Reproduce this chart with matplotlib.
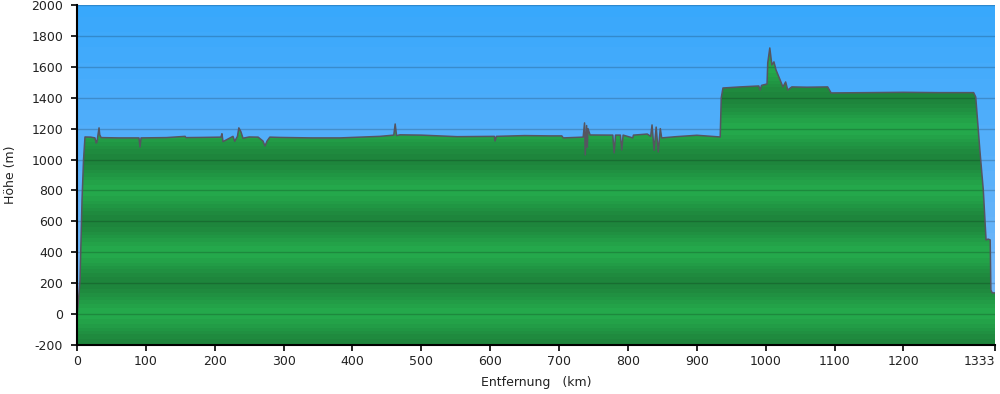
import numpy as np
import matplotlib.pyplot as plt
from matplotlib.colors import to_rgb

plt.rcParams['axes.unicode_minus'] = False

# Höhenprofil: Entfernung (km) und Höhe (m)
dist_km = [0, 1, 4.4, 7.3, 9.5, 11.6, 20, 26, 28, 29, 32, 33, 35, 60, 90, 91.5, 93,
           130, 157, 158, 180, 209, 210.5, 212, 226.5, 229, 233, 235, 238, 241, 250,
           263, 270, 273, 276, 280, 295, 340, 382, 440, 460, 462, 464, 469, 500, 552,
           606, 607, 609, 650, 687, 704, 706, 735, 737, 738, 740, 741, 742, 745, 778,
           780, 782, 789, 791, 793, 807, 808, 828, 833, 835, 838, 841, 844, 847, 849,
           870, 900, 934, 935.5, 938, 963, 990, 992, 994, 1002, 1003, 1006, 1009, 1012,
           1015, 1021, 1025, 1029, 1032, 1038, 1060, 1090, 1095, 1150, 1200, 1250,
           1302, 1305, 1311, 1316, 1320, 1323, 1326, 1327, 1329, 1333]
elev_m = [0, 26, 220, 738, 1000, 1146, 1145, 1140, 1107, 1115, 1205, 1160, 1142, 1140, 1140, 1081, 1140,
          1142, 1150, 1142, 1143, 1145, 1167, 1116, 1150, 1118, 1150, 1205, 1180, 1138, 1146,
          1145, 1120, 1088, 1120, 1145, 1143, 1140, 1140, 1150, 1158, 1230, 1155, 1160, 1158, 1148,
          1150, 1120, 1150, 1155, 1153, 1153, 1140, 1145, 1237, 1030, 1220, 1080, 1200, 1159, 1158,
          1043, 1158, 1158, 1062, 1158, 1140, 1158, 1165, 1150, 1224, 1060, 1210, 1049, 1200, 1140,
          1148, 1157, 1146, 1400, 1463, 1470, 1476, 1450, 1480, 1489, 1625, 1722, 1612, 1632,
          1580, 1515, 1470, 1502, 1450, 1470, 1468, 1470, 1431, 1433, 1435, 1433,
          1433, 1405, 1062, 803, 480, 485, 480, 156, 137, 137]

yticks = list(range(-200, 2001, 200))
xticks = [0, 100, 200, 300, 400, 500, 600, 700, 800, 900, 1000, 1100, 1200, 1333]

x_max = 1333
y_min, y_max = -200, 2000

fig = plt.figure(figsize=(10, 3.94), dpi=100)
ax = fig.add_axes([0.077, 0.1244, 0.918, 0.8629])

# Himmel: blauer Verlauf in Stufen
ev = np.linspace(y_max, y_min, 800)
top = np.array(to_rgb("#38a8fc"))
bot = np.array(to_rgb("#80baf8"))
step = np.floor((y_max - ev + 25) / 100.0) * 100.0
t = np.clip(step / (y_max - y_min), 0, 1)
sky = top + (bot - top) * t[:, None]
ax.imshow(sky[:, None, :], extent=[0, x_max, y_min, y_max], aspect="auto",
          interpolation="nearest", zorder=0)

# Gelände: grüne Streifen (Periode 400 m)
light = np.array(to_rgb("#24a84b"))
dark = np.array(to_rgb("#1e853c"))
phase = ((ev - 200) % 400) / 400.0
g = 0.5 - 0.5 * np.cos(2 * np.pi * phase)
g = np.round(g * 6) / 6
ground = dark + (light - dark) * g[:, None]
im = ax.imshow(ground[:, None, :], extent=[0, x_max, y_min, y_max], aspect="auto",
               interpolation="nearest", zorder=1)
poly = ax.fill_between(dist_km, elev_m, y_min, color="none", lw=0, zorder=1)
im.set_clip_path(poly.get_paths()[0], transform=ax.transData)

for yt in yticks[1:]:
    ax.axhline(yt, color="black", alpha=0.18, lw=1, zorder=2)

ax.plot(dist_km, elev_m, color="#555560", lw=1.1, zorder=3)

ax.set_xlim(0, x_max)
ax.set_ylim(y_min, y_max)
ax.set_xticks(xticks)
ax.set_yticks(yticks)
ax.tick_params(labelsize=9, length=4, width=1.2, color="black", labelcolor="#222222")
ax.tick_params(axis="y", pad=6)
ax.tick_params(axis="x", pad=3)
# letzte Beschriftung rechtsbündig, damit sie im Bild bleibt
ax.get_xticklabels()[-1].set_horizontalalignment("right")
for s in ["top", "right"]:
    ax.spines[s].set_visible(False)
for s in ["left", "bottom"]:
    ax.spines[s].set_linewidth(1.5)
    ax.spines[s].set_zorder(5)

ax.set_ylabel("Höhe (m)", fontsize=9, color="#222222", labelpad=10)
ax.set_xlabel("Entfernung   (km)", fontsize=9, color="#222222", labelpad=6)

fig.savefig("out.png", dpi=100)
